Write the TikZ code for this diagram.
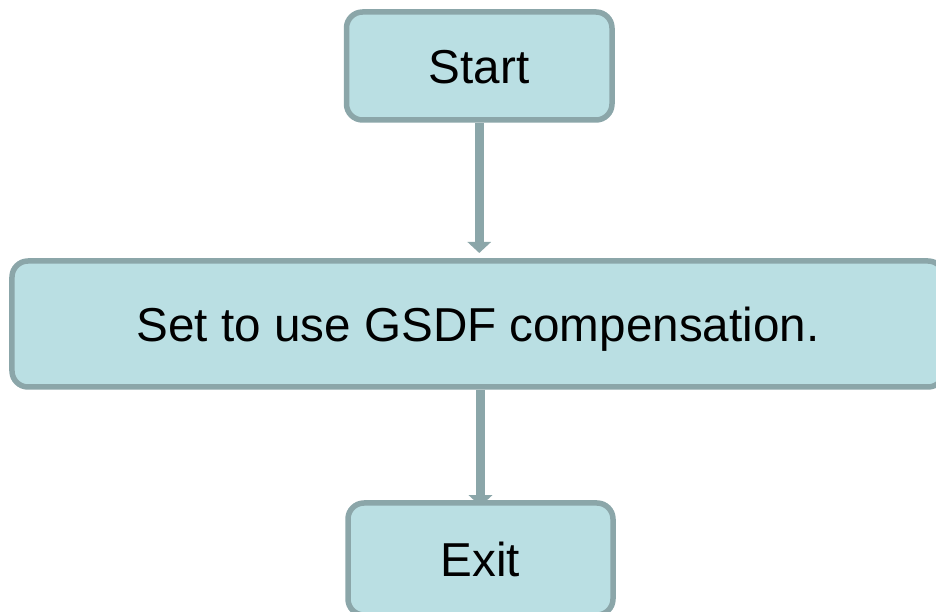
\documentclass[tikz,border=0pt]{standalone}
\usepackage{fontspec}
\setmainfont{Liberation Sans}
\usetikzlibrary{arrows.meta,backgrounds}
\definecolor{boxfill}{HTML}{BADFE3}
\definecolor{boxline}{HTML}{8BA6A9}
\tikzset{
  flowbox/.style={draw=boxline, fill=boxfill, line width=5.5bp,
    rounded corners=16bp, inner sep=0pt, font=\fontsize{47.6bp}{57bp}\selectfont,
    text height=34.2bp, text depth=0pt, align=center},
  flowarrow/.style={draw=boxline, line width=9bp,
    -{Triangle[width=23bp,length=11bp]}}
}
\begin{document}
\begin{tikzpicture}[x=1bp,y=1bp]
  \useasboundingbox (0,0) rectangle (936,612);
  \clip (0,0) rectangle (936,612);
  % process steps
  \node[flowbox, minimum width=265.5bp, minimum height=108bp] (start) at (479.25,546) {Start};
  \node[flowbox, minimum width=932bp, minimum height=126bp] (task) at (478,288) {Set to use GSDF compensation.};
  \node[flowbox, minimum width=265bp, minimum height=112bp] (exit) at (480.5,53) {Exit};
  % connectors, kept under the boxes
  \begin{pgfonlayer}{background}
    \draw[flowarrow, shorten >=5.25bp] (start.south) -- (start.south |- task.north);
    \draw[flowarrow, shorten >=-6bp] (task.south -| exit.north) -- (exit.north);
  \end{pgfonlayer}
\end{tikzpicture}
\end{document}
